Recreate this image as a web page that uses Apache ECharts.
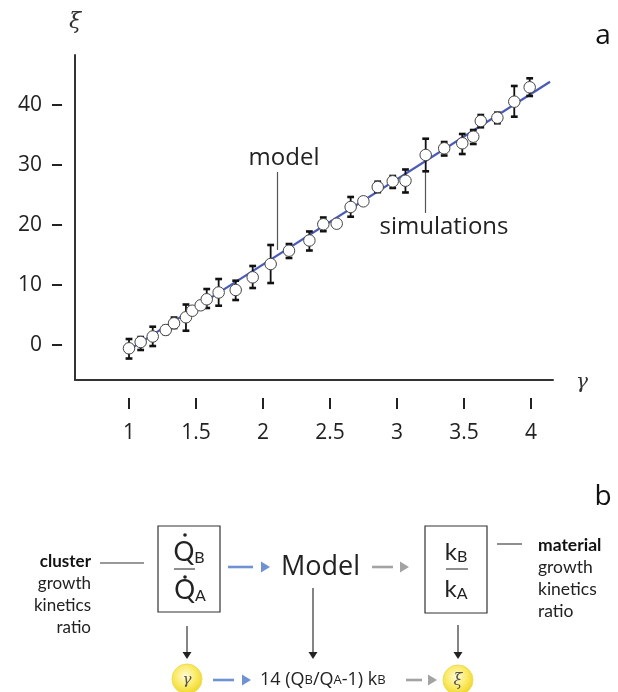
<!DOCTYPE html>
<html>
<head>
<meta charset="utf-8">
<script src="https://cdn.jsdelivr.net/npm/echarts@6/dist/echarts.min.js"></script>
<style>
html,body{margin:0;padding:0;background:#fff;}
#c{width:618px;height:692px;}
</style>
</head>
<body>
<div id="c"></div>
<script>
// ---- data ----
const gamma = [1.000,1.087,1.177,1.274,1.336,1.425,1.472,1.535,1.580,1.669,1.796,1.923,2.057,2.194,2.346,2.450,2.550,2.654,2.749,2.856,2.968,3.063,3.214,3.352,3.487,3.569,3.625,3.749,3.875,3.990];
const xi = [-0.55,0.50,1.42,2.50,3.62,4.62,5.72,6.62,7.62,8.75,9.17,11.28,13.50,15.72,17.42,20.13,20.22,23.00,23.95,26.33,27.28,27.38,31.67,32.78,33.62,34.72,37.33,37.88,40.55,42.95];
const xiLow = [-2.25,-0.83,-0.17,1.83,2.83,2.38,null,null,6.17,6.55,7.50,9.50,10.33,14.50,15.75,18.97,null,21.38,null,25.47,26.17,25.42,28.95,31.58,31.83,33.50,36.28,36.95,38.05,41.50];
const xiHigh = [1.00,1.33,3.05,3.17,4.58,6.75,null,null,9.33,11.00,10.72,13.17,16.67,16.83,18.92,21.25,null,24.67,null,27.22,28.17,29.25,34.38,33.83,35.17,35.83,38.33,38.72,43.17,44.45];
const modelGamma = [0.97, 4.142];
const modelXi = [-1.23, 43.88];
const xTicks = [1, 1.5, 2, 2.5, 3, 3.5, 4];
const yTicks = [0, 10, 20, 30, 40];

const xMin = 0.597, xMax = 4.164, yMin = -5.83, yMax = 48.33;

const pts = gamma.map((g, i) => [g, xi[i]]);
const errs = gamma.map((g, i) => [g, xiLow[i], xiHigh[i]]).filter(d => d[1] !== null);
const modelLine = modelGamma.map((g, i) => [g, modelXi[i]]);

const GEO = "'Open Sans', 'Lato', sans-serif";
const HUM = "'Lato', 'Open Sans', sans-serif";
const ink = '#2b2b2b';

const chart = echarts.init(document.getElementById('c'), null, {renderer: 'canvas'});

function arrowH(x1, x2, tx, y, color) {
  return [
    {type: 'line', shape: {x1: x1, y1: y, x2: x2, y2: y}, style: {stroke: color, lineWidth: 2.6}},
    {type: 'polygon', shape: {points: [[tx, y - 5.5], [tx, y + 5.5], [tx + 9, y]]}, style: {fill: color}}
  ];
}
function arrowV(x, y1, y2) {
  return [
    {type: 'line', shape: {x1: x, y1: y1, x2: x, y2: y2}, style: {stroke: '#333', lineWidth: 1.2}},
    {type: 'polygon', shape: {points: [[x - 4.5, y2], [x + 4.5, y2], [x, y2 + 7]]}, style: {fill: '#222'}}
  ];
}
function txt(x, y, s, opt) {
  return {type: 'text', x: x, y: y, style: Object.assign({text: s, fill: ink, verticalAlign: 'middle'}, opt)};
}
function dot(x, y) {
  return {type: 'circle', shape: {cx: x, cy: y, r: 1.8}, style: {fill: '#222'}};
}
const yellow = {
  type: 'radial', x: 0.45, y: 0.4, r: 0.6,
  colorStops: [{offset: 0, color: '#fffbd8'}, {offset: 0.55, color: '#fbeb6a'}, {offset: 1, color: '#f0d624'}]
};
const fracRich = {q: {font: '26px ' + HUM, fill: '#222'}, s: {font: '16px ' + HUM, fill: '#222', padding: [10, 0, 0, 0]}};
const kRich = {q: {font: '24px ' + HUM, fill: '#222'}, s: {font: '16px ' + HUM, fill: '#222', padding: [9, 0, 0, 0]}};

const graphics = [
  txt(603, 36, 'a', {font: '28px ' + GEO, align: 'center', fill: '#111'}),
  txt(603, 497, 'b', {font: '28px ' + GEO, align: 'center', fill: '#111'}),
  txt(75, 22, 'ξ', {font: 'italic 22px "DejaVu Serif", serif', align: 'center', fill: '#333'}),
  txt(582, 383, 'γ', {font: 'italic 20px "DejaVu Serif", serif', align: 'center', fill: '#333'}),
  // annotations in panel a
  txt(284, 158, 'model', {font: '24px ' + GEO, align: 'center', fill: '#222'}),
  {type: 'line', shape: {x1: 277.5, y1: 172, x2: 277.5, y2: 250}, style: {stroke: '#555', lineWidth: 1.2}},
  txt(444, 227, 'simulations', {font: '24px ' + GEO, align: 'center', fill: '#222'}),
  {type: 'line', shape: {x1: 425.5, y1: 170, x2: 425.5, y2: 213}, style: {stroke: '#555', lineWidth: 1.2}},

  // panel b
  txt(91, 562, 'cluster', {font: 'bold 17px ' + HUM, align: 'right', fill: '#111'}),
  txt(91, 584, 'growth', {font: '17px ' + HUM, align: 'right', fill: '#222'}),
  txt(91, 606, 'kinetics', {font: '17px ' + HUM, align: 'right', fill: '#222'}),
  txt(91, 628, 'ratio', {font: '17px ' + HUM, align: 'right', fill: '#222'}),
  {type: 'line', shape: {x1: 100, y1: 563, x2: 144, y2: 563}, style: {stroke: '#333', lineWidth: 1.1}},

  {type: 'rect', shape: {x: 158, y: 526, width: 62, height: 86}, style: {fill: 'none', stroke: '#333', lineWidth: 1.2}},
  {type: 'text', x: 189, y: 553, style: {text: '{q|Q}{s|B}', verticalAlign: 'middle', align: 'center', rich: fracRich}},
  dot(185, 535),
  {type: 'line', shape: {x1: 174, y1: 569, x2: 195, y2: 569}, style: {stroke: '#333', lineWidth: 1.1}},
  {type: 'text', x: 190, y: 591, style: {text: '{q|Q}{s|A}', verticalAlign: 'middle', align: 'center', rich: fracRich}},
  dot(185, 577),

  ...arrowH(228, 253, 261, 567, '#6f93d2'),
  txt(281, 567, 'Model', {font: '27px ' + GEO, align: 'left', fill: '#222'}),
  ...arrowH(372, 393, 400, 567, '#a3a3a3'),

  {type: 'rect', shape: {x: 425, y: 526, width: 62, height: 87}, style: {fill: 'none', stroke: '#333', lineWidth: 1.2}},
  {type: 'text', x: 456, y: 552, style: {text: '{q|k}{s|B}', verticalAlign: 'middle', align: 'center', rich: kRich}},
  {type: 'line', shape: {x1: 446, y1: 569, x2: 468, y2: 569}, style: {stroke: '#333', lineWidth: 1.1}},
  {type: 'text', x: 456, y: 589, style: {text: '{q|k}{s|A}', verticalAlign: 'middle', align: 'center', rich: kRich}},
  {type: 'line', shape: {x1: 497, y1: 544, x2: 522, y2: 544}, style: {stroke: '#333', lineWidth: 1.1}},
  txt(538, 545, 'material', {font: 'bold 17.5px ' + HUM, align: 'left', fill: '#111'}),
  txt(538, 567, 'growth', {font: '17.5px ' + HUM, align: 'left', fill: '#222'}),
  txt(538, 589, 'kinetics', {font: '17.5px ' + HUM, align: 'left', fill: '#222'}),
  txt(538, 611, 'ratio', {font: '17.5px ' + HUM, align: 'left', fill: '#222'}),

  ...arrowV(187, 626, 652),
  ...arrowV(313, 588, 652),
  ...arrowV(458, 625, 652),

  {type: 'circle', shape: {cx: 187, cy: 679, r: 15}, style: {fill: yellow, stroke: '#eedc5a', lineWidth: 1}},
  txt(187, 680, 'γ', {font: 'italic 15px "DejaVu Serif", serif', align: 'center', fill: '#555'}),
  ...arrowH(213, 234, 242, 680, '#6f93d2'),
  {type: 'text', x: 260, y: 680, style: {text: '{n|14 (Q}{s|B}{n|/Q}{s|A}{n|-1) k}{s|B}', verticalAlign: 'middle', align: 'left',
    rich: {n: {font: '18px ' + GEO, fill: '#222'}, s: {font: '13px ' + GEO, fill: '#222'}}}},
  ...arrowH(406, 422, 428, 680, '#a3a3a3'),
  {type: 'circle', shape: {cx: 458, cy: 680, r: 15}, style: {fill: yellow, stroke: '#eedc5a', lineWidth: 1}},
  txt(458, 681, 'ξ', {font: 'italic 16px "DejaVu Serif", serif', align: 'center', fill: '#555'})
];

const option = {
  backgroundColor: '#fff',
  animation: false,
  grid: {left: 75, right: 65, top: 55, bottom: 312},
  xAxis: [
    {type: 'value', min: xMin, max: xMax, position: 'bottom',
     axisLine: {show: true, onZero: false, lineStyle: {color: '#333', width: 2}},
     axisTick: {show: false}, axisLabel: {show: false}, splitLine: {show: false}},
    {type: 'value', min: xMin, max: xMax, position: 'bottom', offset: 18,
     axisLine: {show: false, onZero: false},
     axisTick: {show: true, length: 11, customValues: xTicks, lineStyle: {color: '#222', width: 2}},
     axisLabel: {show: true, customValues: xTicks, margin: 25, color: '#222', fontSize: 21, fontFamily: GEO,
                 formatter: v => String(v)},
     splitLine: {show: false}}
  ],
  yAxis: [
    {type: 'value', min: yMin, max: yMax, position: 'left',
     axisLine: {show: true, onZero: false, lineStyle: {color: '#333', width: 2}},
     axisTick: {show: false}, axisLabel: {show: false}, splitLine: {show: false}},
    {type: 'value', min: yMin, max: yMax, position: 'left', offset: 13,
     axisLine: {show: false, onZero: false},
     axisTick: {show: true, length: 10, customValues: yTicks, lineStyle: {color: '#222', width: 2}},
     axisLabel: {show: true, customValues: yTicks, margin: 20, color: '#222', fontSize: 21, fontFamily: GEO},
     splitLine: {show: false}}
  ],
  series: [
    {type: 'line', data: modelLine, xAxisIndex: 0, yAxisIndex: 0, symbol: 'none',
     lineStyle: {color: '#4b5bb8', width: 2.2}, z: 1, silent: true},
    {type: 'custom', data: errs, xAxisIndex: 0, yAxisIndex: 0, z: 2, silent: true,
     encode: {x: 0, y: [1, 2]},
     renderItem: function (params, api) {
       const x = api.value(0), lo = api.value(1), hi = api.value(2);
       const a = api.coord([x, hi]), b = api.coord([x, lo]);
       const cw = 3.4;
       return {type: 'group', children: [
         {type: 'line', shape: {x1: a[0], y1: a[1], x2: b[0], y2: b[1]}, style: {stroke: '#111', lineWidth: 1.8}},
         {type: 'line', shape: {x1: a[0] - cw, y1: a[1], x2: a[0] + cw, y2: a[1]}, style: {stroke: '#111', lineWidth: 2.6}},
         {type: 'line', shape: {x1: b[0] - cw, y1: b[1], x2: b[0] + cw, y2: b[1]}, style: {stroke: '#111', lineWidth: 2.6}}
       ]};
     }},
    {type: 'scatter', data: pts, xAxisIndex: 0, yAxisIndex: 0, z: 3, silent: true,
     symbol: 'circle', symbolSize: 11.5,
     itemStyle: {color: '#fff', borderColor: '#444', borderWidth: 1, opacity: 1}}
  ],
  graphic: graphics
};
chart.setOption(option);
</script>
</body>
</html>
